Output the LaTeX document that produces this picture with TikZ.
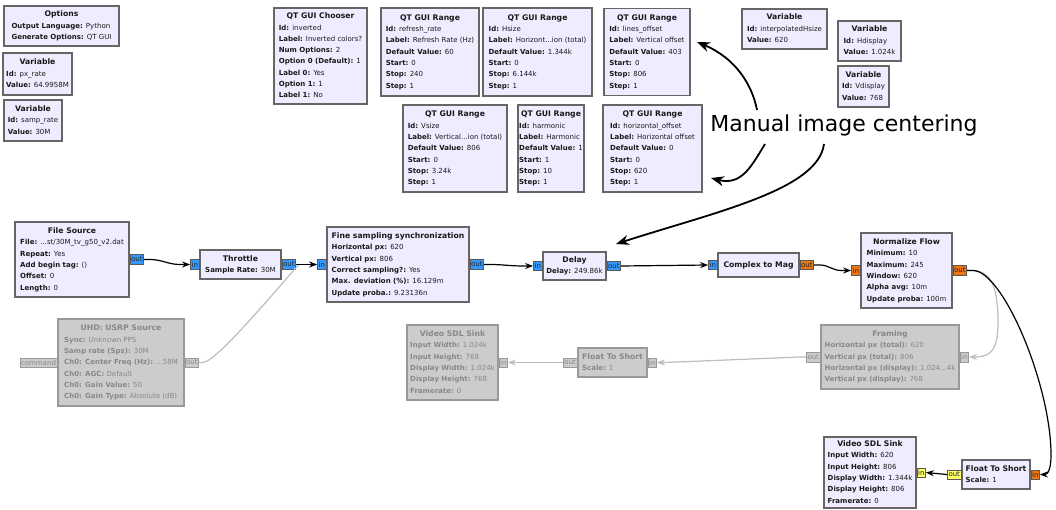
\documentclass[tikz,border=0pt]{standalone}
\usepackage{fontspec}
\setmainfont{DejaVu Sans}
\usetikzlibrary{arrows.meta,calc}
\definecolor{blkfill}{HTML}{F0ECFF}
\definecolor{blkdraw}{HTML}{666666}
\definecolor{disfill}{HTML}{CCCCCC}
\definecolor{disdraw}{HTML}{999999}
\definecolor{distext}{HTML}{888888}
\definecolor{cplx}{HTML}{3399FF}
\definecolor{flt}{HTML}{EE7611}
\definecolor{shrt}{HTML}{FFFF66}
\definecolor{gwirec}{HTML}{BDBDBD}
\newcommand\ttl[1]{{\fontsize{7.7}{11.3}\selectfont\bfseries #1}}
\newcommand\tb[2]{\begin{tabular}{@{}l@{}}\multicolumn{1}{@{}c@{}}{\ttl{#1}}\\#2\end{tabular}}
\newcommand\kv[2]{\textbf{#1:} #2}
\tikzset{
  x=1pt,y=1pt,
  blk/.style={draw=blkdraw, fill=blkfill, line width=1.2, inner sep=0pt, font=\fontsize{7}{11.3}\selectfont, text=black!90},
  blkdis/.style={blk, draw=disdraw, fill=disfill, text=distext},
  port/.style={draw=black!65, line width=0.5, inner xsep=1.2, inner ysep=0, minimum height=9.5, font=\fontsize{7}{7.5}\selectfont, text=black!85},
  pdis/.style={port, fill=disfill, draw=disdraw, text=distext},
  wire/.style={draw=black, line width=1.2, -{Stealth[length=8pt,width=6pt]}},
  gwire/.style={draw=gwirec, line width=1.2, -{Stealth[length=8pt,width=6pt]}},
  ann/.style={draw=black, line width=1.8, -{Stealth[length=13pt,width=10pt]}},
}
\begin{document}
\begin{tikzpicture}
\useasboundingbox (0,0) rectangle (1056,-510);

% ---- variables / GUI blocks
\node[blk, minimum width=115, minimum height=40] (options) at (61.5,-26) {\tb{Options}{\kv{Output Language}{Python}\\\kv{Generate Options}{QT GUI}}};
\node[blk, minimum width=69, minimum height=42] (varpx) at (37.5,-74) {\tb{Variable}{\kv{Id}{px\_rate}\\\kv{Value}{64.9958M}}};
\node[blk, minimum width=58, minimum height=41] (varsamp) at (33,-120.5) {\tb{Variable}{\kv{Id}{samp\_rate}\\\kv{Value}{30M}}};
\node[blk, minimum width=93, minimum height=96] (chooser) at (320.5,-56) {\tb{QT GUI Chooser}{\kv{Id}{inverted}\\\kv{Label}{Inverted colors?}\\\kv{Num Options}{2}\\\kv{Option 0 (Default)}{1}\\\kv{Label 0}{Yes}\\\kv{Option 1}{1}\\\kv{Label 1}{No}}};
\node[blk, minimum width=98, minimum height=88] (rngrefresh) at (430,-52) {\tb{QT GUI Range}{\kv{Id}{refresh\_rate}\\\kv{Label}{Refresh Rate (Hz)}\\\kv{Default Value}{60}\\\kv{Start}{0}\\\kv{Stop}{240}\\\kv{Step}{1}}};
\node[blk, minimum width=109, minimum height=88] (rnghsize) at (537.5,-52) {\tb{QT GUI Range}{\kv{Id}{Hsize}\\\kv{Label}{Horizont...ion (total)}\\\kv{Default Value}{1.344k}\\\kv{Start}{0}\\\kv{Stop}{6.144k}\\\kv{Step}{1}}};
\node[blk, minimum width=86, minimum height=87] (rnglines) at (647,-52) {\tb{QT GUI Range}{\kv{Id}{lines\_offset}\\\kv{Label}{Vertical offset}\\\kv{Default Value}{403}\\\kv{Start}{0}\\\kv{Stop}{806}\\\kv{Step}{1}}};
\node[blk, minimum width=85, minimum height=40] (varinterp) at (784.5,-29) {\tb{Variable}{\kv{Id}{interpolatedHsize}\\\kv{Value}{620}}};
\node[blk, minimum width=63, minimum height=40] (varhdisp) at (869.5,-41) {\tb{Variable}{\kv{Id}{Hdisplay}\\\kv{Value}{1.024k}}};
\node[blk, minimum width=51, minimum height=41] (varvdisp) at (863.5,-86.5) {\tb{Variable}{\kv{Id}{Vdisplay}\\\kv{Value}{768}}};
\node[blk, minimum width=104, minimum height=87] (rngvsize) at (455,-148.5) {\tb{QT GUI Range}{\kv{Id}{Vsize}\\\kv{Label}{Vertical...ion (total)}\\\kv{Default Value}{806}\\\kv{Start}{0}\\\kv{Stop}{3.24k}\\\kv{Step}{1}}};
\node[blk, minimum width=66, minimum height=87] (rngharm) at (551,-148.5) {\tb{QT GUI Range}{\kv{Id}{harmonic}\\\kv{Label}{Harmonic}\\\kv{Default Value}{1}\\\kv{Start}{1}\\\kv{Stop}{10}\\\kv{Step}{1}}};
\node[blk, minimum width=99, minimum height=87] (rnghoff) at (652.5,-148.5) {\tb{QT GUI Range}{\kv{Id}{horizontal\_offset}\\\kv{Label}{Horizontal offset}\\\kv{Default Value}{0}\\\kv{Start}{0}\\\kv{Stop}{620}\\\kv{Step}{1}}};

% ---- main chain
\node[blk, minimum width=114, minimum height=75] (filesrc) at (72,-259.5) {\tb{File Source}{\kv{File}{...st/30M\_tv\_g50\_v2.dat}\\\kv{Repeat}{Yes}\\\kv{Add begin tag}{()}\\\kv{Offset}{0}\\\kv{Length}{0}}};
\node[blk, minimum width=81, minimum height=29] (throttle) at (240.5,-264.5) {\tb{Throttle}{\kv{Sample Rate}{30M}}};
\node[blk, minimum width=142, minimum height=75] (fine) at (398,-264.5) {\tb{Fine sampling synchronization}{\kv{Horizontal px}{620}\\\kv{Vertical px}{806}\\\kv{Correct sampling?}{Yes}\\\kv{Max. deviation (\%)}{16.129m}\\\kv{Update proba.}{9.23136n}}};
\node[blk, minimum width=63, minimum height=28] (delay) at (574.5,-266) {\tb{Delay}{\kv{Delay}{249.86k}}};
\node[blk, minimum width=81, minimum height=24] (ctomag) at (758.5,-265) {\ttl{Complex to Mag}};
\node[blk, minimum width=91, minimum height=75] (norm) at (906.5,-270.5) {\tb{Normalize Flow}{\kv{Minimum}{10}\\\kv{Maximum}{245}\\\kv{Window}{620}\\\kv{Alpha avg}{10m}\\\kv{Update proba}{100m}}};

% ---- disabled blocks
\node[blkdis, minimum width=126, minimum height=87] (uhd) at (121,-362.5) {\tb{UHD: USRP Source}{\kv{Sync}{Unknown PPS}\\\kv{Samp rate (Sps)}{30M}\\\kv{Ch0: Center Freq (Hz)}{...58M}\\\kv{Ch0: AGC}{Default}\\\kv{Ch0: Gain Value}{50}\\\kv{Ch0: Gain Type}{Absolute (dB)}}};
\node[blkdis, minimum width=91, minimum height=75] (sdlg) at (452.5,-362.5) {\tb{Video SDL Sink}{\kv{Input Width}{1.024k}\\\kv{Input Height}{768}\\\kv{Display Width}{1.024k}\\\kv{Display Height}{768}\\\kv{Framerate}{0}}};
\node[blkdis, minimum width=69, minimum height=29] (f2sg) at (612.5,-362.5) {\tb{Float To Short}{\kv{Scale}{1}}};
\node[blkdis, minimum width=138, minimum height=64] (framing) at (890,-357) {\tb{Framing}{\kv{Horizontal px (total)}{620}\\\kv{Vertical px (total)}{806}\\\kv{Horizontal px (display)}{1.024...4k}\\\kv{Vertical px (display)}{768}}};

% ---- sink chain
\node[blk, minimum width=92, minimum height=71] (sdl) at (870,-472.5) {\tb{Video SDL Sink}{\kv{Input Width}{620}\\\kv{Input Height}{806}\\\kv{Display Width}{1.344k}\\\kv{Display Height}{806}\\\kv{Framerate}{0}}};
\node[blk, minimum width=68, minimum height=29] (f2s) at (996,-474.5) {\tb{Float To Short}{\kv{Scale}{1}}};

% ---- ports
\node[port, fill=cplx, anchor=west] (fsout) at (filesrc.east) {out};
\node[port, fill=cplx, anchor=east] (thin) at (throttle.west) {in};
\node[port, fill=cplx, anchor=west] (thout) at (throttle.east) {out};
\node[port, fill=cplx, anchor=east] (finein) at (fine.west) {in};
\node[port, fill=cplx, anchor=west] (fineout) at (fine.east) {out};
\node[port, fill=cplx, anchor=east] (dlin) at (delay.west) {in};
\node[port, fill=cplx, anchor=west] (dlout) at (delay.east) {out};
\node[port, fill=cplx, anchor=east] (cmin) at (ctomag.west) {in};
\node[port, fill=flt, anchor=west] (cmout) at (ctomag.east) {out};
\node[port, fill=flt, anchor=east] (nfin) at (norm.west) {in};
\node[port, fill=flt, anchor=west] (nfout) at (norm.east) {out};
\node[pdis, anchor=east] (uhdcmd) at (uhd.west) {command};
\node[pdis, anchor=west] (uhdout) at (uhd.east) {out};
\node[pdis, anchor=west] (sdlgin) at (sdlg.east) {in};
\node[pdis, anchor=east] (f2sgout) at (f2sg.west) {out};
\node[pdis, anchor=west] (f2sgin) at (f2sg.east) {in};
\node[pdis, anchor=east] (frout) at (framing.west) {out};
\node[pdis, anchor=west] (frin) at (framing.east) {in};
\node[port, fill=shrt, anchor=west] (sdlin) at (sdl.east) {in};
\node[port, fill=shrt, anchor=east] (f2sout) at (f2s.west) {out};
\node[port, fill=flt, anchor=west] (f2sin) at (f2s.east) {in};

% ---- disabled connections
\draw[gwire] (uhdout.east) -- ++(4,0) .. controls +(14,0) and +(-12,-12) .. ($(finein.west)+(-18,0)$) -- (finein.west);
\draw[gwire] (nfout.east) -- ++(6,0) .. controls +(20,0) and +(0,30) .. (998,-322) .. controls +(0,-28) and +(16,0) .. ($(frin.east)+(6,0)$) -- (frin.east);
\draw[gwire] (frout.west) -- ++(-6,0) -- ($(f2sgin.east)+(8,0)$) -- (f2sgin.east);
\draw[gwire] (f2sgout.west) -- (sdlgin.east);

% ---- connections
\draw[wire] (fsout.east) -- ++(6,0) to[out=0,in=180] ($(thin.west)+(-10,0)$) -- (thin.west);
\draw[wire] (thout.east) -- (finein.west);
\draw[wire] (fineout.east) -- ++(6,0) to[out=0,in=180] ($(dlin.west)+(-10,0)$) -- (dlin.west);
\draw[wire] (dlout.east) -- (cmin.west);
\draw[wire] (cmout.east) -- ++(6,0) to[out=0,in=180] ($(nfin.west)+(-10,0)$) -- (nfin.west);
\draw[wire] (nfout.east) -- ++(6,0) .. controls +(30,0) and +(0,70) .. (1051,-455) .. controls +(0,-14) and +(8,0) .. (f2sin.east);
\draw[wire] (f2sout.west) -- (sdlin.east);

% ---- annotation
\node[inner sep=0, font=\fontsize{22}{26}\selectfont] (note) at (844,-125) {Manual image centering};
\coordinate (a1s) at (757,-110);
\coordinate (a1e) at (697,-42);
\coordinate (a2s) at (765,-144);
\coordinate (a2e) at (711,-178);
\coordinate (a3s) at (824,-144);
\coordinate (a3e) at (616,-244);
\draw[ann] (a1s) .. controls (752,-84) and (735,-58) .. (a1e);
\draw[ann] (a2s) .. controls (752,-165) and (742,-186) .. (a2e);
\draw[ann] (a3s) .. controls (818,-190) and (715,-212) .. (a3e);
\end{tikzpicture}
\end{document}
